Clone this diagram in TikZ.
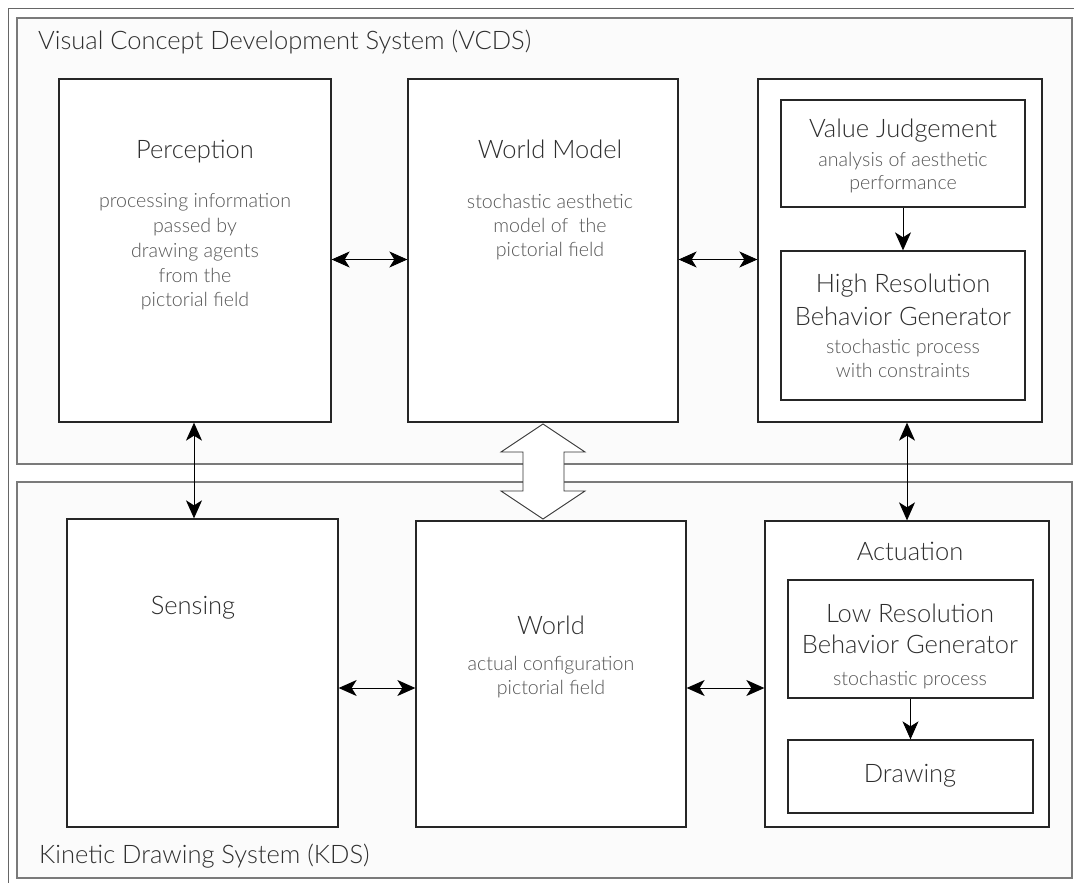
\documentclass[tikz,border=0pt]{standalone}
\usepackage{fontspec}
\setmainfont{Lato}[UprightFont={* Light}]
\usetikzlibrary{arrows.meta}
\definecolor{headc}{HTML}{2E2E2E}
\definecolor{subc}{HTML}{555555}
\definecolor{panelfill}{HTML}{FBFBFB}
\definecolor{panelline}{HTML}{7A7A7A}
\begin{document}
\begin{tikzpicture}[x=1pt,y=-1pt,
  panel/.style={draw=panelline, line width=1.4pt, fill=panelfill},
  frame/.style={draw=black!60, line width=0.9pt},
  box/.style={draw=black!85, line width=1.3pt, fill=white, inner sep=0pt},
  head/.style={anchor=base, text=headc, font=\fontsize{25.5}{30}\selectfont, inner sep=0pt},
  sub/.style={anchor=base, text=subc, font=\fontsize{19.6}{24}\selectfont, inner sep=0pt},
  tip/.tip={Stealth[length=18pt,width=16pt,inset=5pt]},
  dbl/.style={tip-tip, line width=0.9pt, draw=black},
  one/.style={-tip, line width=0.9pt, draw=black},
  bigarrow/.style={draw=black!80, line width=0.9pt, fill=white}]
\useasboundingbox (0,0) rectangle (1074,883);
\clip (0,0) rectangle (1074,883);
\fill[white] (0,0) rectangle (1074,883);
\draw[frame] (8,8) rectangle (1100,910);
\draw[panel] (17,18) rectangle (1072,464);
\draw[panel] (17,482) rectangle (1072,878);

\node[head, anchor=base west] (vcdsT) at (38,50) {Visual Concept Development System (VCDS)};
\node[head, anchor=base west] (kdsT) at (39,863) {Kinetic Drawing System (KDS)};

% VCDS boxes
\node[box, minimum width=272pt, minimum height=343pt] (perc) at (195,250.5) {};
\node[box, minimum width=270pt, minimum height=343pt] (wm) at (543,250.5) {};
\node[box, minimum width=284pt, minimum height=343pt] (vjo) at (900,250.5) {};
\node[box, minimum width=244pt, minimum height=107pt] (vj) at (903,153.5) {};
\node[box, minimum width=244pt, minimum height=149pt] (hrbg) at (903,325.5) {};

% KDS boxes
\node[box, minimum width=271pt, minimum height=308pt] (sens) at (202.5,673) {};
\node[box, minimum width=270pt, minimum height=306pt] (world) at (551,674) {};
\node[box, minimum width=284pt, minimum height=306pt] (act) at (907,674) {};
\node[box, minimum width=245pt, minimum height=118pt] (lrbg) at (910.5,639) {};
\node[box, minimum width=245pt, minimum height=73pt] (drw) at (910.5,776.5) {};

% texts
\node[head] (percT) at (195,158) {Perception};
\node[sub] (percS1) at (195,207) {processing information};
\node[sub] (percS2) at (195,232) {passed by};
\node[sub] (percS3) at (195,257) {drawing agents};
\node[sub] (percS4) at (195,282) {from the};
\node[sub] (percS5) at (195,306) {pictorial field};

\node[head] (wmT) at (550,158) {World Model};
\node[sub] (wmS1) at (550,208) {stochastic aesthetic};
\node[sub] (wmS2) at (550,232) {model of~~the};
\node[sub] (wmS3) at (550,256) {pictorial field};

\node[head] (vjT) at (903,137) {Value Judgement};
\node[sub] (vjS1) at (903,166) {analysis of aesthetic};
\node[sub] (vjS2) at (903,189) {performance};

\node[head] (hrT1) at (903,292) {High Resolution};
\node[head] (hrT2) at (903,325) {Behavior Generator};
\node[sub] (hrS1) at (903,353) {stochastic process};
\node[sub] (hrS2) at (903,377) {with constraints};

\node[head] (sensT) at (193,614) {Sensing};

\node[head] (worldT) at (551,634) {World};
\node[sub] (worldS1) at (551,670) {actual configuration};
\node[sub] (worldS2) at (551,694) {pictorial field};

\node[head] (actT) at (910,560) {Actuation};
\node[head] (lrT1) at (910,622) {Low Resolution};
\node[head] (lrT2) at (910,653) {Behavior Generator};
\node[sub] (lrS1) at (910,685) {stochastic process};
\node[head] (drwT) at (910,782) {Drawing};

% connectors
\draw[dbl] ([yshift=-9pt]perc.east) -- ([yshift=-9pt]perc.east -| wm.west);
\draw[dbl] ([yshift=-9pt]wm.east) -- ([yshift=-9pt]wm.east -| vjo.west);
\draw[one] (vj.south) -- (hrbg.north);
\draw[dbl] ([xshift=-1pt]perc.south) -- ([xshift=-1pt]perc.south |- sens.north);
\draw[dbl] (act.north |- vjo.south) -- (act.north);
\draw[dbl] ([yshift=-15pt]sens.east) -- ([yshift=-15pt]sens.east -| world.west);
\draw[dbl] ([yshift=-14pt]world.east) -- ([yshift=-14pt]world.east -| act.west);
\draw[one] (lrbg.south) -- (drw.north);

% big double arrow between the two systems
\draw[bigarrow] (543,424) -- (585,452) -- (564,452) -- (564,491) -- (585,491)
  -- (543,519) -- (501,491) -- (523,491) -- (523,452) -- (501,452) -- cycle;
\end{tikzpicture}
\end{document}
